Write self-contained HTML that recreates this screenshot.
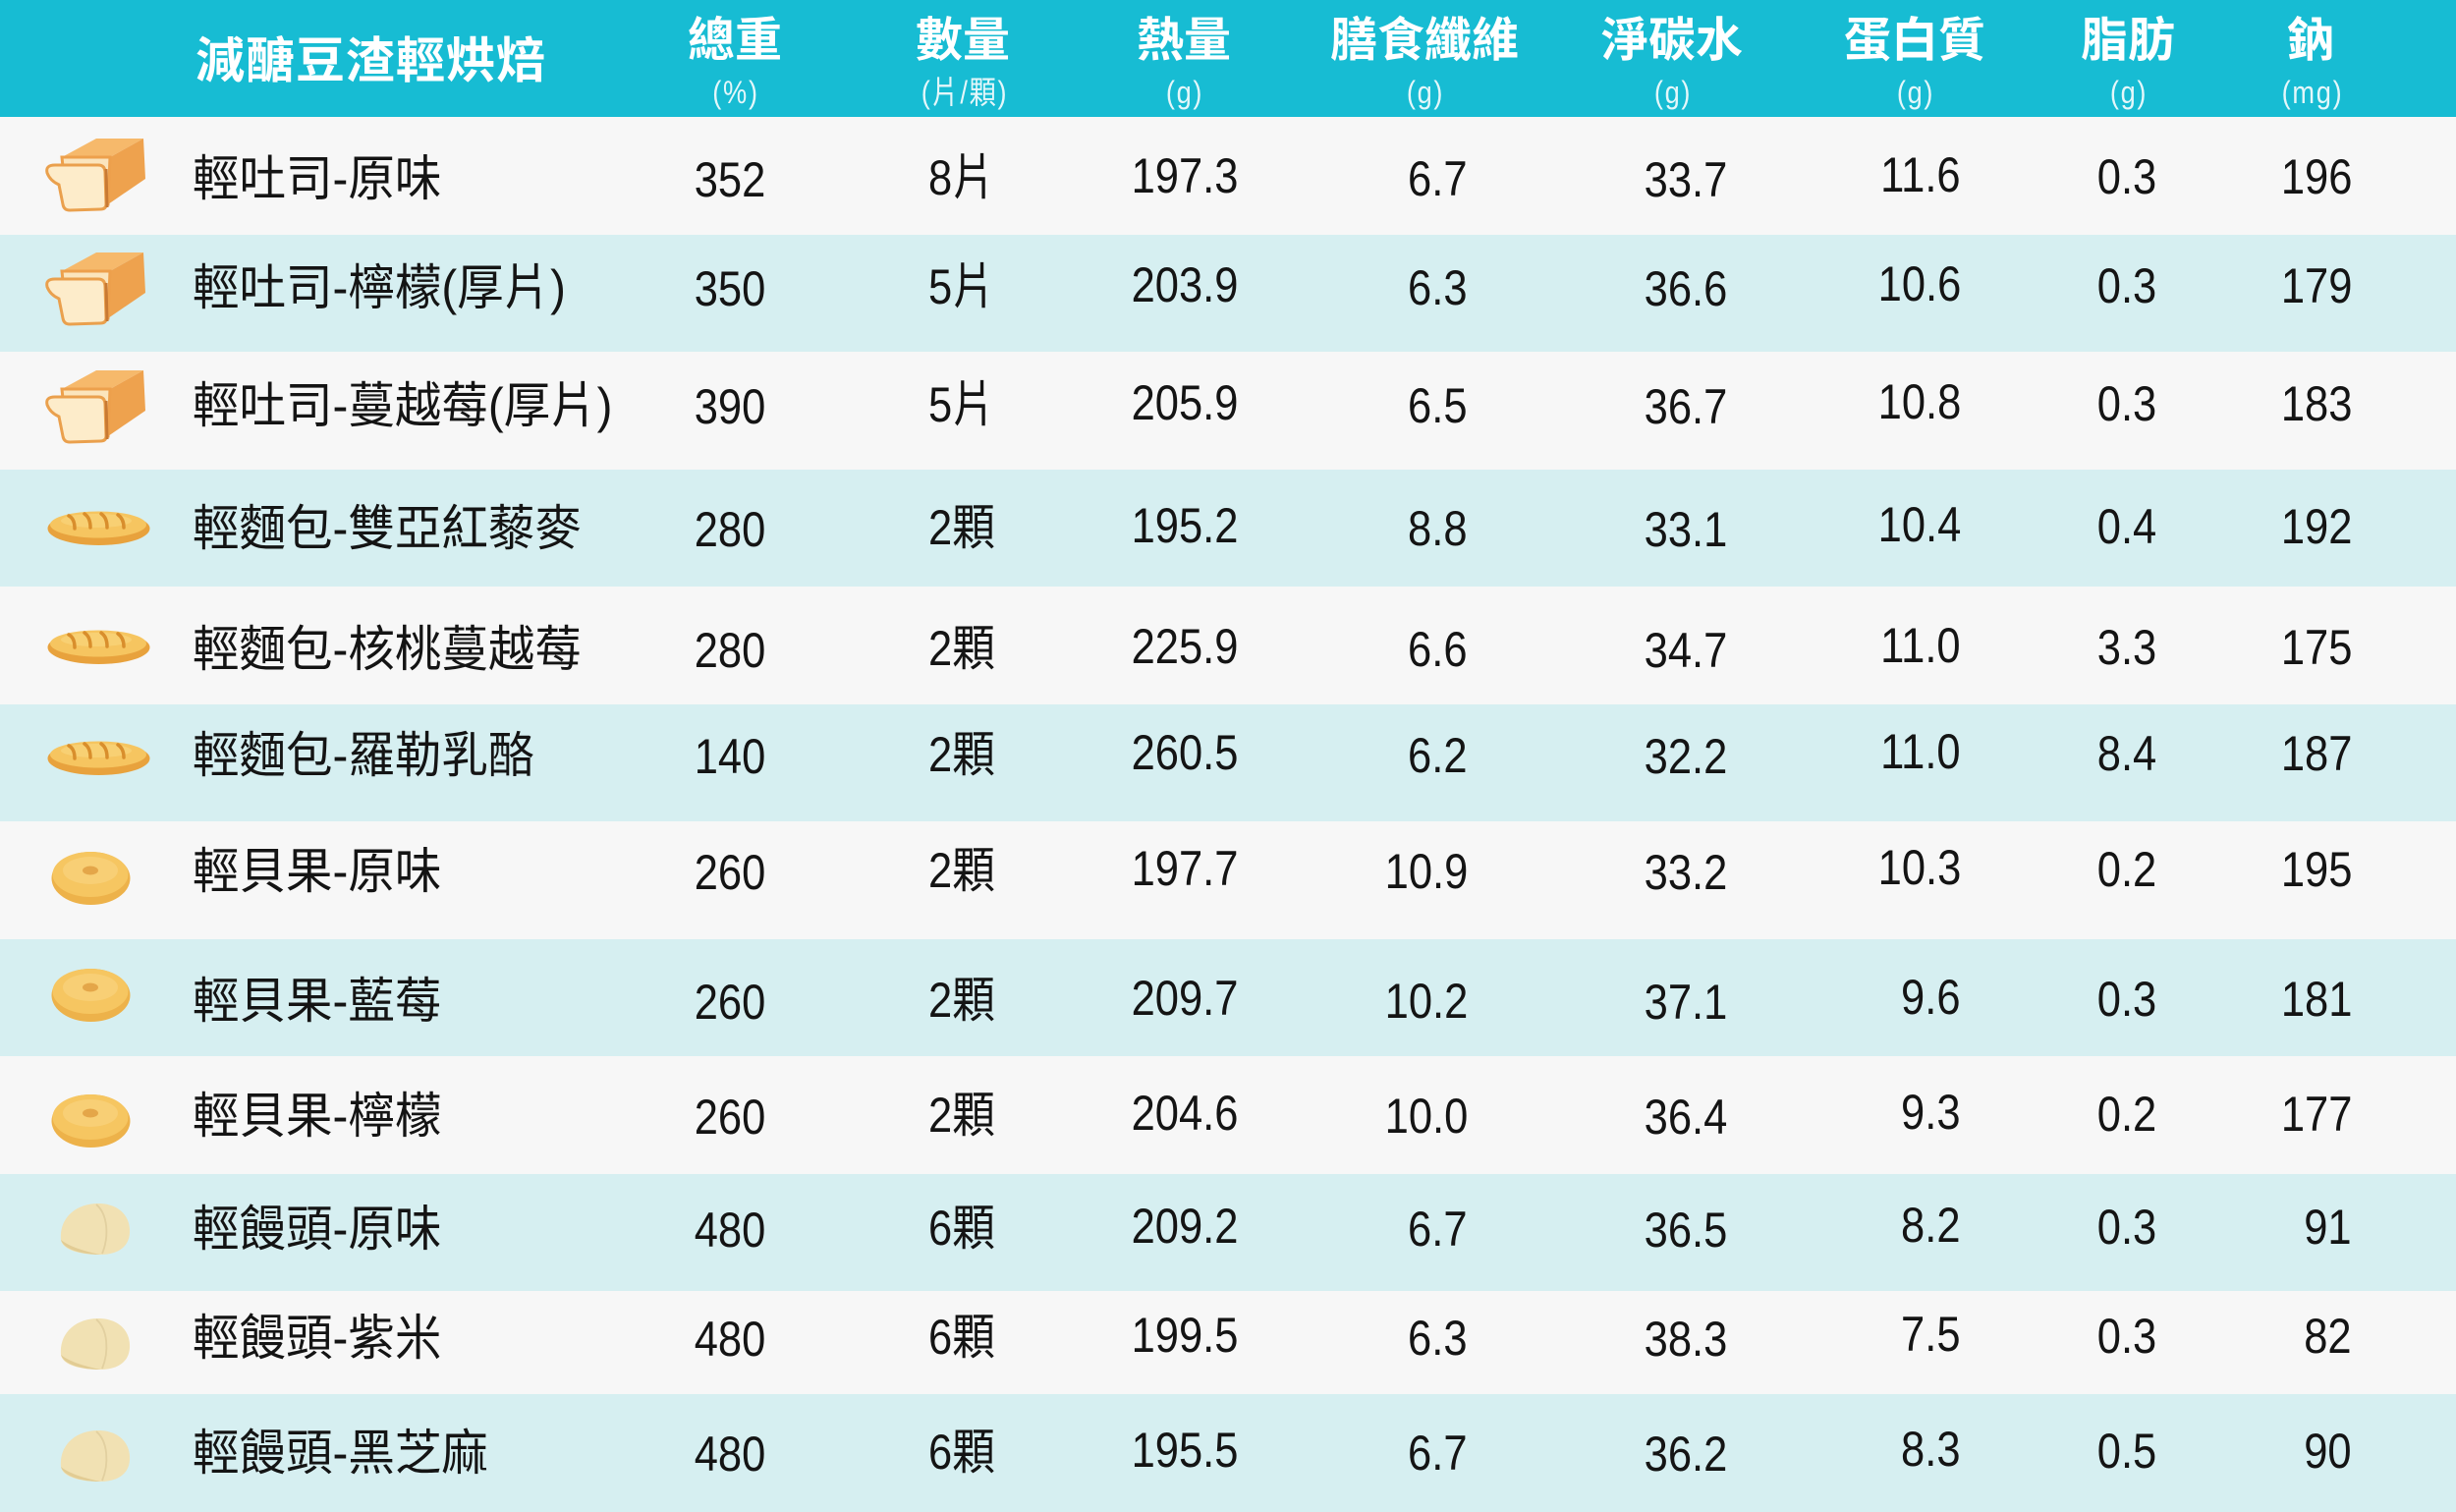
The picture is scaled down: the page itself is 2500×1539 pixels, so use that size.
<!DOCTYPE html>
<html>
<head>
<meta charset="utf-8">
<style>
html,body{margin:0;padding:0;}
body{width:2500px;height:1539px;overflow:hidden;background:#d6eff1;position:relative;}
.bg{position:absolute;left:0;width:2500px;}
.hd{background:#17bcd3;top:0;height:119px;}
.wr{background:#f7f7f7;}
.tr{background:#d6eff1;}
.h{position:absolute;color:#fff;font-family:"Liberation Sans","Noto Sans CJK TC",sans-serif;font-weight:700;white-space:nowrap;}
.ttl{left:199px;top:37px;font-size:50px;line-height:50px;letter-spacing:1px;}
.hm{top:18px;font-size:48px;line-height:48px;transform:translateX(-50%);}
.hs{top:78px;font-size:32px;line-height:32px;font-weight:400;letter-spacing:2px;color:#e4f7fa;transform:translateX(-50%) scaleX(.85);}
.r{position:absolute;left:0;width:2500px;height:50px;}
.r div{position:absolute;top:0;font-family:"Liberation Sans","Noto Sans CJK TC",sans-serif;font-size:50px;line-height:50px;color:#141414;white-space:nowrap;}
.r .nm{left:196px;top:-1px;transform-origin:0 50%;transform:scaleX(.95);}
.r .w{left:743px;transform:translateX(-50%) scaleX(.87);}
.r .q{left:945px;top:-2px;transform-origin:0 50%;transform:scaleX(.87);}
.r .k{left:1206px;top:-4px;transform:translateX(-50%) scaleX(.87);}
.r .f{right:1006px;top:-1px;transform-origin:100% 50%;transform:scaleX(.87);}
.r .n{left:1716px;transform:translateX(-50%) scaleX(.87);}
.r .p{right:504px;top:-5px;transform-origin:100% 50%;transform:scaleX(.87);}
.r .t{left:2165px;top:-3px;transform:translateX(-50%) scaleX(.87);}
.r .a{right:106px;top:-3px;transform-origin:100% 50%;transform:scaleX(.87);}
svg{position:absolute;}
</style>
</head>
<body>
<div class="bg hd"></div>
<div class="bg wr" style="top:119px;height:120px"></div>
<div class="bg tr" style="top:239px;height:119px"></div>
<div class="bg wr" style="top:358px;height:120px"></div>
<div class="bg tr" style="top:478px;height:119px"></div>
<div class="bg wr" style="top:597px;height:120px"></div>
<div class="bg tr" style="top:717px;height:119px"></div>
<div class="bg wr" style="top:836px;height:120px"></div>
<div class="bg tr" style="top:956px;height:119px"></div>
<div class="bg wr" style="top:1075px;height:120px"></div>
<div class="bg tr" style="top:1195px;height:119px"></div>
<div class="bg wr" style="top:1314px;height:105px"></div>
<div class="bg tr" style="top:1419px;height:120px"></div>

<div class="h ttl">減醣豆渣輕烘焙</div>
<div class="h hm" style="left:748px">總重</div>
<div class="h hm" style="left:980px">數量</div>
<div class="h hm" style="left:1205px">熱量</div>
<div class="h hm" style="left:1450px">膳食纖維</div>
<div class="h hm" style="left:1702px">淨碳水</div>
<div class="h hm" style="left:1949px">蛋白質</div>
<div class="h hm" style="left:2166px">脂肪</div>
<div class="h hm" style="left:2352px">鈉</div>
<div class="h hs" style="left:749px">(%)</div>
<div class="h hs" style="left:982px">(片/顆)</div>
<div class="h hs" style="left:1206px">(g)</div>
<div class="h hs" style="left:1451px">(g)</div>
<div class="h hs" style="left:1703px">(g)</div>
<div class="h hs" style="left:1950px">(g)</div>
<div class="h hs" style="left:2167px">(g)</div>
<div class="h hs" style="left:2354px">(mg)</div>

<div class="r" style="top:158px"><div class="nm">輕吐司-原味</div><div class="w">352</div><div class="q">8片</div><div class="k">197.3</div><div class="f">6.7</div><div class="n">33.7</div><div class="p">11.6</div><div class="t">0.3</div><div class="a">196</div></div>
<div class="r" style="top:269px"><div class="nm">輕吐司-檸檬(厚片)</div><div class="w">350</div><div class="q">5片</div><div class="k">203.9</div><div class="f">6.3</div><div class="n">36.6</div><div class="p">10.6</div><div class="t">0.3</div><div class="a">179</div></div>
<div class="r" style="top:389px"><div class="nm">輕吐司-蔓越莓(厚片)</div><div class="w">390</div><div class="q">5片</div><div class="k">205.9</div><div class="f">6.5</div><div class="n">36.7</div><div class="p">10.8</div><div class="t">0.3</div><div class="a">183</div></div>
<div class="r" style="top:514px"><div class="nm">輕麵包-雙亞紅藜麥</div><div class="w">280</div><div class="q">2顆</div><div class="k">195.2</div><div class="f">8.8</div><div class="n">33.1</div><div class="p">10.4</div><div class="t">0.4</div><div class="a">192</div></div>
<div class="r" style="top:637px"><div class="nm">輕麵包-核桃蔓越莓</div><div class="w">280</div><div class="q">2顆</div><div class="k">225.9</div><div class="f">6.6</div><div class="n">34.7</div><div class="p">11.0</div><div class="t">3.3</div><div class="a">175</div></div>
<div class="r" style="top:745px"><div class="nm">輕麵包-羅勒乳酪</div><div class="w">140</div><div class="q">2顆</div><div class="k">260.5</div><div class="f">6.2</div><div class="n">32.2</div><div class="p">11.0</div><div class="t">8.4</div><div class="a">187</div></div>
<div class="r" style="top:863px"><div class="nm">輕貝果-原味</div><div class="w">260</div><div class="q">2顆</div><div class="k">197.7</div><div class="f">10.9</div><div class="n">33.2</div><div class="p">10.3</div><div class="t">0.2</div><div class="a">195</div></div>
<div class="r" style="top:995px"><div class="nm">輕貝果-藍莓</div><div class="w">260</div><div class="q">2顆</div><div class="k">209.7</div><div class="f">10.2</div><div class="n">37.1</div><div class="p">9.6</div><div class="t">0.3</div><div class="a">181</div></div>
<div class="r" style="top:1112px"><div class="nm">輕貝果-檸檬</div><div class="w">260</div><div class="q">2顆</div><div class="k">204.6</div><div class="f">10.0</div><div class="n">36.4</div><div class="p">9.3</div><div class="t">0.2</div><div class="a">177</div></div>
<div class="r" style="top:1227px"><div class="nm">輕饅頭-原味</div><div class="w">480</div><div class="q">6顆</div><div class="k">209.2</div><div class="f">6.7</div><div class="n">36.5</div><div class="p">8.2</div><div class="t">0.3</div><div class="a">91</div></div>
<div class="r" style="top:1338px"><div class="nm">輕饅頭-紫米</div><div class="w">480</div><div class="q">6顆</div><div class="k">199.5</div><div class="f">6.3</div><div class="n">38.3</div><div class="p">7.5</div><div class="t">0.3</div><div class="a">82</div></div>
<div class="r" style="top:1455px"><div class="nm">輕饅頭-黑芝麻</div><div class="w">480</div><div class="q">6顆</div><div class="k">195.5</div><div class="f">6.7</div><div class="n">36.2</div><div class="p">8.3</div><div class="t">0.5</div><div class="a">90</div></div>

<!-- toast icons -->
<svg style="left:30px;top:108px" width="150" height="150" viewBox="0 0 150 150">
<polygon points="33,52 68,33 116,33 82,52" fill="#f6b96b"/>
<polygon points="82,52 116,33 118,74 80,100" fill="#eea24e"/>
<polygon points="33,52 82,52 80,100 38,100" fill="#fbe5bd" stroke="#eda04c" stroke-width="3"/>
<path d="M18,68 Q16,60 26,60 L70,60 Q77,60 77,68 L78,100 Q78,105 72,105 L41,106 Q35,106 34,100 L30,80 Q21,76 18,68 Z" fill="#fdecca" stroke="#eaa04d" stroke-width="3"/>
<line x1="78" y1="64" x2="79" y2="103" stroke="#c97a33" stroke-width="3"/>
</svg>
<svg style="left:30px;top:224px" width="150" height="150" viewBox="0 0 150 150">
<polygon points="33,52 68,33 116,33 82,52" fill="#f6b96b"/>
<polygon points="82,52 116,33 118,74 80,100" fill="#eea24e"/>
<polygon points="33,52 82,52 80,100 38,100" fill="#fbe5bd" stroke="#eda04c" stroke-width="3"/>
<path d="M18,68 Q16,60 26,60 L70,60 Q77,60 77,68 L78,100 Q78,105 72,105 L41,106 Q35,106 34,100 L30,80 Q21,76 18,68 Z" fill="#fdecca" stroke="#eaa04d" stroke-width="3"/>
<line x1="78" y1="64" x2="79" y2="103" stroke="#c97a33" stroke-width="3"/>
</svg>
<svg style="left:30px;top:344px" width="150" height="150" viewBox="0 0 150 150">
<polygon points="33,52 68,33 116,33 82,52" fill="#f6b96b"/>
<polygon points="82,52 116,33 118,74 80,100" fill="#eea24e"/>
<polygon points="33,52 82,52 80,100 38,100" fill="#fbe5bd" stroke="#eda04c" stroke-width="3"/>
<path d="M18,68 Q16,60 26,60 L70,60 Q77,60 77,68 L78,100 Q78,105 72,105 L41,106 Q35,106 34,100 L30,80 Q21,76 18,68 Z" fill="#fdecca" stroke="#eaa04d" stroke-width="3"/>
<line x1="78" y1="64" x2="79" y2="103" stroke="#c97a33" stroke-width="3"/>
</svg>

<!-- bread icons -->
<svg style="left:30px;top:499px" width="150" height="80" viewBox="0 0 150 80">
<ellipse cx="70.5" cy="39" rx="52" ry="17" fill="#e8a23d"/>
<ellipse cx="70" cy="35" rx="49" ry="13.5" fill="#f6c560"/>
<ellipse cx="68" cy="31" rx="36" ry="7" fill="#f9d47c" opacity=".7"/>
<g stroke="#d98e2c" stroke-width="3.5" fill="none" stroke-linecap="round">
<path d="M40,26 Q46,29 46,39"/><path d="M56,24 Q62,28 62,38"/><path d="M73,24 Q79,28 79,38"/><path d="M90,25 Q96,29 96,38"/></g>
</svg>
<svg style="left:30px;top:620px" width="150" height="80" viewBox="0 0 150 80">
<ellipse cx="70.5" cy="39" rx="52" ry="17" fill="#e8a23d"/>
<ellipse cx="70" cy="35" rx="49" ry="13.5" fill="#f6c560"/>
<ellipse cx="68" cy="31" rx="36" ry="7" fill="#f9d47c" opacity=".7"/>
<g stroke="#d98e2c" stroke-width="3.5" fill="none" stroke-linecap="round">
<path d="M40,26 Q46,29 46,39"/><path d="M56,24 Q62,28 62,38"/><path d="M73,24 Q79,28 79,38"/><path d="M90,25 Q96,29 96,38"/></g>
</svg>
<svg style="left:30px;top:733px" width="150" height="80" viewBox="0 0 150 80">
<ellipse cx="70.5" cy="39" rx="52" ry="17" fill="#e8a23d"/>
<ellipse cx="70" cy="35" rx="49" ry="13.5" fill="#f6c560"/>
<ellipse cx="68" cy="31" rx="36" ry="7" fill="#f9d47c" opacity=".7"/>
<g stroke="#d98e2c" stroke-width="3.5" fill="none" stroke-linecap="round">
<path d="M40,26 Q46,29 46,39"/><path d="M56,24 Q62,28 62,38"/><path d="M73,24 Q79,28 79,38"/><path d="M90,25 Q96,29 96,38"/></g>
</svg>

<!-- bagel icons -->
<svg style="left:40px;top:853px" width="110" height="80" viewBox="0 0 110 80">
<ellipse cx="52.5" cy="41" rx="40" ry="27" fill="#edb24a"/>
<ellipse cx="52" cy="37" rx="38.5" ry="23" fill="#f6c661"/>
<ellipse cx="52" cy="33" rx="28" ry="14" fill="#f9d17a" opacity=".8"/>
<ellipse cx="52" cy="33" rx="8" ry="4.5" fill="#e4a649"/>
</svg>
<svg style="left:40px;top:972px" width="110" height="80" viewBox="0 0 110 80">
<ellipse cx="52.5" cy="41" rx="40" ry="27" fill="#edb24a"/>
<ellipse cx="52" cy="37" rx="38.5" ry="23" fill="#f6c661"/>
<ellipse cx="52" cy="33" rx="28" ry="14" fill="#f9d17a" opacity=".8"/>
<ellipse cx="52" cy="33" rx="8" ry="4.5" fill="#e4a649"/>
</svg>
<svg style="left:40px;top:1100px" width="110" height="80" viewBox="0 0 110 80">
<ellipse cx="52.5" cy="41" rx="40" ry="27" fill="#edb24a"/>
<ellipse cx="52" cy="37" rx="38.5" ry="23" fill="#f6c661"/>
<ellipse cx="52" cy="33" rx="28" ry="14" fill="#f9d17a" opacity=".8"/>
<ellipse cx="52" cy="33" rx="8" ry="4.5" fill="#e4a649"/>
</svg>

<!-- mantou icons -->
<svg style="left:40px;top:1209px" width="110" height="80" viewBox="0 0 110 80">
<path d="M22,53 C20,31 37,16 60,16 C81,16 93,29 92,46 C91,61 79,68 62,68 C43,68 24,64 22,53 Z" fill="#f1e1b3"/>
<path d="M22,53 C25,63 44,68 62,68 C49,65 32,61 22,53 Z" fill="#e2cc94"/>
<path d="M58,17 C70,27 71,50 64,67" stroke="#e2d0a0" stroke-width="1.8" fill="none"/>
</svg>
<svg style="left:40px;top:1326px" width="110" height="80" viewBox="0 0 110 80">
<path d="M22,53 C20,31 37,16 60,16 C81,16 93,29 92,46 C91,61 79,68 62,68 C43,68 24,64 22,53 Z" fill="#f1e1b3"/>
<path d="M22,53 C25,63 44,68 62,68 C49,65 32,61 22,53 Z" fill="#e2cc94"/>
<path d="M58,17 C70,27 71,50 64,67" stroke="#e2d0a0" stroke-width="1.8" fill="none"/>
</svg>
<svg style="left:40px;top:1440px" width="110" height="80" viewBox="0 0 110 80">
<path d="M22,53 C20,31 37,16 60,16 C81,16 93,29 92,46 C91,61 79,68 62,68 C43,68 24,64 22,53 Z" fill="#f1e1b3"/>
<path d="M22,53 C25,63 44,68 62,68 C49,65 32,61 22,53 Z" fill="#e2cc94"/>
<path d="M58,17 C70,27 71,50 64,67" stroke="#e2d0a0" stroke-width="1.8" fill="none"/>
</svg>
</body>
</html>
